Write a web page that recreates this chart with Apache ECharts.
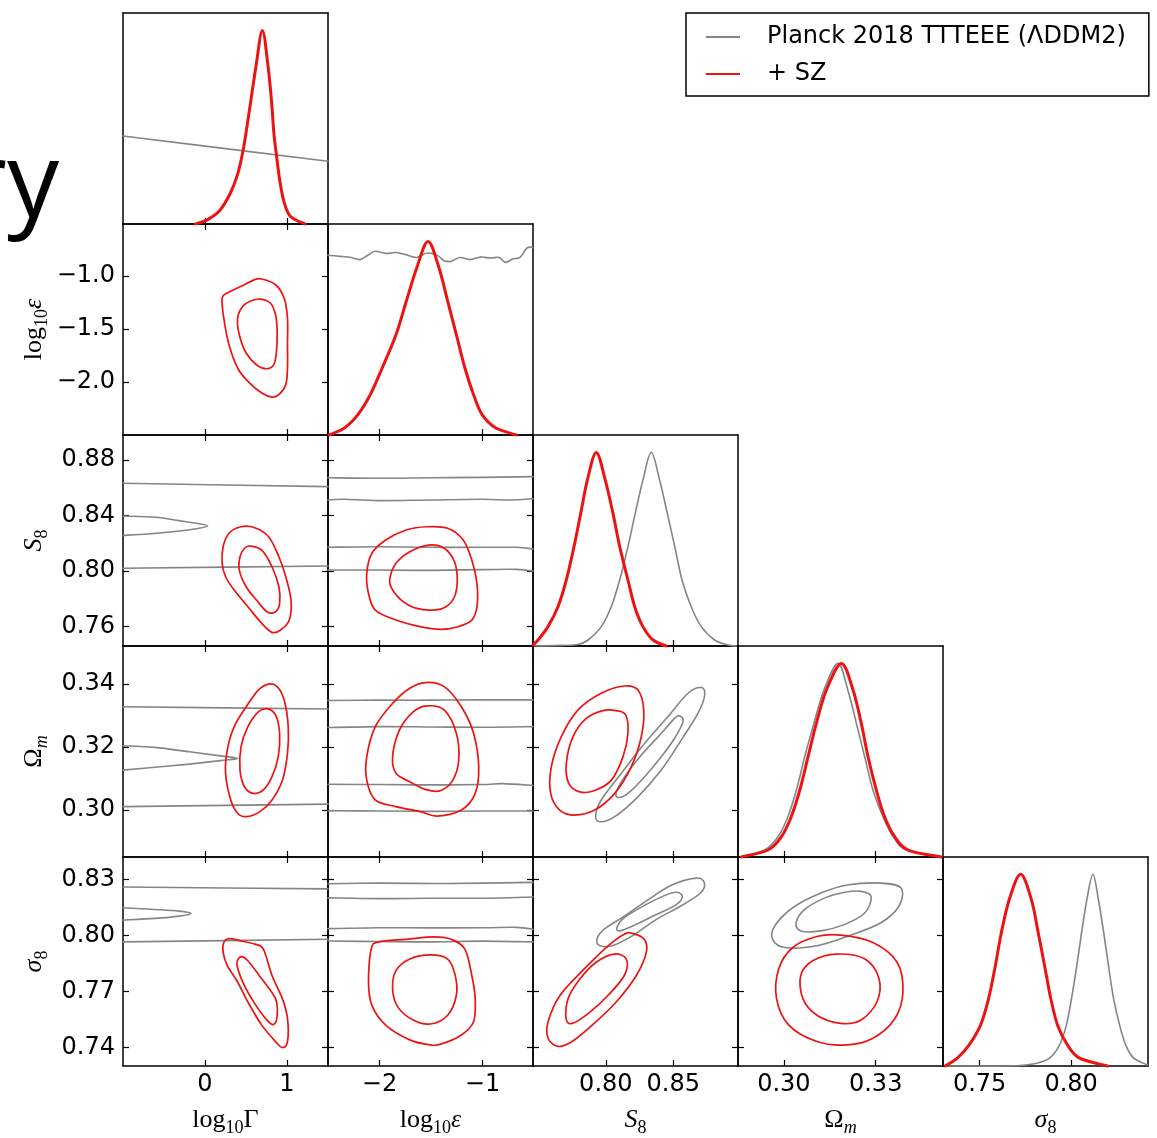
<!DOCTYPE html>
<html><head><meta charset="utf-8">
<script src="https://cdn.jsdelivr.net/npm/echarts@6/dist/echarts.min.js"></script>
<style>html,body{margin:0;padding:0;background:#fff}#c{width:1157px;height:1138px}</style>
</head><body><div id="c"></div>
<script>
// ---------- axis ranges & ticks ----------
const rangeGamma = [-1, 1.5];
const rangeEps = [-2.5, -0.51];
const rangeS8 = [0.746, 0.898];
const rangeOm = [0.285, 0.352];
const rangeSig = [0.73, 0.842];
const rangeDensity = [0, 1.09];

const ticksGamma = [0, 1];
const ticksEpsX = [-2, -1];
const ticksEpsY = [-2.0, -1.5, -1.0];
const ticksS8X = [0.80, 0.85];
const ticksS8Y = [0.76, 0.80, 0.84, 0.88];
const ticksOmX = [0.30, 0.33];
const ticksOmY = [0.30, 0.32, 0.34];
const ticksSigX = [0.75, 0.80];
const ticksSigY = [0.74, 0.77, 0.80, 0.83];

const NAME_GRAY = 'Planck 2018 TTTEEE (ΛDDM2)';
const NAME_RED = '+ SZ';

// ---------- 1D marginals (normalised density) ----------
const gamma1DGray = [[-1, 0.455], [1.5, 0.324]];
const gamma1DRed = [[-0.12,0],[0.02,0.02],[0.18,0.07],[0.31,0.16],[0.40,0.26],[0.46,0.37],[0.50,0.47],[0.56,0.64],[0.62,0.81],[0.70,1.0],[0.77,0.81],[0.81,0.64],[0.84,0.47],[0.87,0.36],[0.91,0.23],[0.96,0.12],[1.04,0.04],[1.22,0]];
const eps1DGray = [[-2.5,0.928],[-2.375,0.923],[-2.275,0.917],[-2.191,0.906],[-2.107,0.931],[-2.04,0.949],[-1.94,0.938],[-1.84,0.943],[-1.74,0.931],[-1.639,0.917],[-1.539,0.94],[-1.439,0.928],[-1.372,0.9],[-1.305,0.897],[-1.221,0.917],[-1.121,0.906],[-1.02,0.919],[-0.92,0.914],[-0.837,0.917],[-0.777,0.892],[-0.703,0.91],[-0.636,0.917],[-0.569,0.966],[-0.51,0.969]];
const eps1DRed = [[-2.49,0],[-2.34,0.036],[-2.21,0.105],[-2.09,0.208],[-1.974,0.346],[-1.84,0.518],[-1.74,0.691],[-1.639,0.863],[-1.529,1.0],[-1.422,0.863],[-1.338,0.691],[-1.254,0.518],[-1.171,0.346],[-1.087,0.208],[-1.004,0.105],[-0.87,0.036],[-0.67,0]];
const s81DGray = [[0.7473,0],[0.767,0.003],[0.7793,0.008],[0.7868,0.031],[0.7966,0.1],[0.804,0.203],[0.8103,0.341],[0.8164,0.513],[0.8218,0.685],[0.8275,0.857],[0.8337,1],[0.8399,0.857],[0.8456,0.685],[0.8511,0.513],[0.8565,0.341],[0.8633,0.203],[0.8708,0.1],[0.8807,0.031],[0.8906,0.005],[0.8967,0]];
const s81DRed = [[0.746,0.005],[0.7497,0.031],[0.7571,0.1],[0.7645,0.203],[0.7707,0.341],[0.7764,0.513],[0.7814,0.685],[0.7863,0.857],[0.7929,1],[0.7996,0.857],[0.8053,0.685],[0.8103,0.513],[0.8164,0.341],[0.8214,0.203],[0.8275,0.1],[0.835,0.031],[0.8448,0]];
const om1DGray = [[0.2861,0],[0.2937,0.036],[0.2981,0.105],[0.3013,0.208],[0.3041,0.346],[0.3068,0.518],[0.3098,0.69],[0.3131,0.863],[0.3177,1],[0.3209,0.863],[0.3237,0.69],[0.3264,0.518],[0.3291,0.346],[0.3324,0.208],[0.3357,0.105],[0.34,0.036],[0.3514,0]];
const om1DRed = [[0.2861,0],[0.2948,0.036],[0.2992,0.105],[0.3024,0.208],[0.3052,0.346],[0.3079,0.518],[0.3106,0.69],[0.3139,0.863],[0.3188,1],[0.3226,0.863],[0.3253,0.69],[0.3275,0.518],[0.3302,0.346],[0.3329,0.208],[0.3362,0.105],[0.3406,0.036],[0.3514,0]];
const sig1DGray = [[0.7312,0],[0.7662,0],[0.78,0.012],[0.7882,0.041],[0.7937,0.11],[0.7974,0.213],[0.8002,0.351],[0.8031,0.523],[0.8057,0.696],[0.8086,0.868],[0.8119,1],[0.8149,0.868],[0.8178,0.696],[0.8204,0.523],[0.8232,0.351],[0.8265,0.213],[0.8298,0.11],[0.8342,0.041],[0.8419,0.005]];
const sig1DRed = [[0.7312,0],[0.7378,0.041],[0.7443,0.11],[0.7505,0.213],[0.7549,0.351],[0.7586,0.523],[0.7619,0.696],[0.7662,0.868],[0.7724,1],[0.7783,0.868],[0.782,0.696],[0.7855,0.523],[0.7889,0.351],[0.7926,0.213],[0.798,0.11],[0.8046,0.041],[0.8199,0]];

// ---------- 2D contours ----------
const epsGammaRedOuter = [[0.692,-1.029],[0.860,-1.083],[0.965,-1.208],[1.006,-1.397],[1.006,-1.649],[1.006,-1.868],[0.985,-2.026],[0.901,-2.120],[0.817,-2.142],[0.692,-2.104],[0.523,-1.994],[0.398,-1.868],[0.293,-1.649],[0.229,-1.397],[0.209,-1.208],[0.272,-1.161],[0.439,-1.098],[0.607,-1.035]];
const epsGammaRedInner = [[0.671,-1.218],[0.796,-1.255],[0.860,-1.366],[0.880,-1.522],[0.872,-1.711],[0.839,-1.837],[0.755,-1.875],[0.628,-1.837],[0.502,-1.727],[0.418,-1.554],[0.398,-1.397],[0.461,-1.286],[0.566,-1.234]];
const s8GammaGrayTop = [[-1,0.8632],[1.5,0.8608]];
const s8GammaGrayFinger = [[-1,0.8396],[-0.610,0.8387],[-0.317,0.8363],[-0.106,0.8344],[0.032,0.8324],[-0.106,0.8305],[-0.400,0.8283],[-0.694,0.8267],[-1,0.8257]];
const s8GammaGrayBottom = [[-1,0.8020],[1.5,0.8036]];
const s8GammaRedOuter = [[0.439,0.8319],[0.607,0.8312],[0.776,0.8247],[0.901,0.8103],[0.985,0.7959],[1.049,0.7791],[1.028,0.7647],[0.922,0.7575],[0.817,0.7558],[0.692,0.7623],[0.523,0.7743],[0.356,0.7863],[0.251,0.7959],[0.209,0.8056],[0.221,0.8175],[0.293,0.8272]];
const s8GammaRedInner = [[0.545,0.8180],[0.692,0.8151],[0.817,0.8031],[0.901,0.7887],[0.910,0.7767],[0.860,0.7707],[0.755,0.7707],[0.628,0.7791],[0.502,0.7887],[0.418,0.8007],[0.427,0.8103],[0.482,0.8164]];
const s8EpsGray1 = [[-2.5,0.8672],[-2.007,0.8668],[-1.506,0.8672],[-1.004,0.8675],[-0.51,0.8680]];
const s8EpsGray2 = [[-2.5,0.8512],[-2.341,0.8517],[-2.007,0.8507],[-1.506,0.8512],[-1.004,0.8517],[-0.737,0.8512],[-0.51,0.8521]];
const s8EpsGray3 = [[-2.5,0.8171],[-2.007,0.8175],[-1.506,0.8171],[-1.004,0.8171],[-0.670,0.8171],[-0.51,0.8159]];
const s8EpsGray4 = [[-2.5,0.8007],[-2.007,0.8007],[-1.506,0.8005],[-1.004,0.8010],[-0.670,0.8012],[-0.51,0.8000]];
const s8EpsRedOuter = [[-1.539,0.8319],[-1.338,0.8308],[-1.188,0.8224],[-1.104,0.8079],[-1.054,0.7912],[-1.054,0.7743],[-1.104,0.7647],[-1.238,0.7599],[-1.405,0.7580],[-1.606,0.7599],[-1.840,0.7647],[-2.041,0.7719],[-2.107,0.7839],[-2.124,0.7984],[-2.074,0.8128],[-1.940,0.8224],[-1.740,0.8296]];
const s8EpsRedInner = [[-1.522,0.8187],[-1.372,0.8164],[-1.272,0.8067],[-1.245,0.7935],[-1.272,0.7815],[-1.355,0.7743],[-1.472,0.7719],[-1.639,0.7731],[-1.789,0.7791],[-1.890,0.7887],[-1.896,0.7959],[-1.840,0.8056],[-1.706,0.8139]];
const omGammaGrayTop = [[-1,0.3327],[1.5,0.3320]];
const omGammaGrayFinger = [[-1,0.3203],[-0.610,0.3198],[-0.190,0.3184],[0.188,0.3171],[0.398,0.3163],[0.188,0.3156],[-0.190,0.3145],[-0.610,0.3135],[-1,0.3126]];
const omGammaGrayBottom = [[-1,0.3010],[1.5,0.3018]];
const omGammaRedOuter = [[0.776,0.3399],[0.880,0.3391],[0.965,0.3349],[1.015,0.3264],[1.006,0.3179],[0.944,0.3094],[0.817,0.3031],[0.671,0.2994],[0.502,0.2978],[0.398,0.2989],[0.314,0.3031],[0.251,0.3116],[0.272,0.3190],[0.356,0.3264],[0.502,0.3327],[0.650,0.3380]];
const omGammaRedInner = [[0.755,0.3321],[0.860,0.3301],[0.910,0.3243],[0.893,0.3168],[0.817,0.3105],[0.712,0.3063],[0.587,0.3052],[0.482,0.3073],[0.427,0.3126],[0.439,0.3200],[0.523,0.3264],[0.650,0.3311]];
const omEpsGray1 = [[-2.5,0.3347],[-2.007,0.3348],[-1.506,0.3348],[-1.004,0.3349],[-0.51,0.3349]];
const omEpsGray2 = [[-2.5,0.3261],[-2.007,0.3264],[-1.506,0.3263],[-1.004,0.3262],[-0.51,0.3264]];
const omEpsGray3 = [[-2.5,0.3081],[-2.007,0.3080],[-1.506,0.3079],[-1.004,0.3080],[-0.803,0.3083],[-0.51,0.3077]];
const omEpsGray4 = [[-2.5,0.2997],[-2.007,0.2996],[-1.506,0.2995],[-1.004,0.2996],[-0.51,0.2996]];
const omEpsRedOuter = [[-1.555,0.3404],[-1.372,0.3391],[-1.205,0.3327],[-1.087,0.3243],[-1.037,0.3137],[-1.071,0.3052],[-1.205,0.2999],[-1.439,0.2980],[-1.606,0.2994],[-1.840,0.3010],[-2.041,0.3031],[-2.124,0.3094],[-2.124,0.3168],[-2.041,0.3264],[-1.873,0.3338],[-1.706,0.3386]];
const omEpsRedInner = [[-1.539,0.3330],[-1.372,0.3317],[-1.254,0.3243],[-1.231,0.3158],[-1.288,0.3094],[-1.405,0.3061],[-1.539,0.3063],[-1.706,0.3089],[-1.840,0.3116],[-1.873,0.3168],[-1.807,0.3253],[-1.673,0.3311]];
const omS8GrayOuter = [[0.8708,0.3388],[0.8733,0.3364],[0.8683,0.3306],[0.8559,0.3221],[0.8411,0.3126],[0.8238,0.3041],[0.8066,0.2978],[0.7954,0.2962],[0.7925,0.2983],[0.7966,0.3031],[0.8115,0.3116],[0.8288,0.3211],[0.8461,0.3296],[0.8609,0.3370]];
const omS8GrayInner = [[0.8548,0.3298],[0.8572,0.3280],[0.8510,0.3227],[0.8411,0.3168],[0.8288,0.3105],[0.8164,0.3052],[0.8090,0.3039],[0.8078,0.3057],[0.8140,0.3105],[0.8263,0.3174],[0.8399,0.3237],[0.8510,0.3290]];
const omS8RedOuter = [[0.8140,0.3393],[0.8238,0.3380],[0.8281,0.3317],[0.8263,0.3232],[0.8189,0.3137],[0.8066,0.3052],[0.7917,0.2999],[0.7769,0.2983],[0.7658,0.2999],[0.7591,0.3052],[0.7596,0.3137],[0.7670,0.3232],[0.7794,0.3317],[0.7966,0.3370]];
const omS8RedInner = [[0.8078,0.3315],[0.8147,0.3301],[0.8164,0.3243],[0.8127,0.3168],[0.8041,0.3094],[0.7917,0.3061],[0.7806,0.3057],[0.7725,0.3084],[0.7707,0.3147],[0.7757,0.3232],[0.7855,0.3290],[0.7979,0.3315]];
const sigGammaGrayTop = [[-1,0.8259],[1.5,0.8249]];
const sigGammaGrayFinger = [[-1,0.8148],[-0.610,0.8139],[-0.316,0.8130],[-0.170,0.8117],[-0.316,0.8103],[-0.610,0.8091],[-1,0.8082]];
const sigGammaGrayBottom = [[-1,0.7965],[1.5,0.7979]];
const sigGammaRedOuter = [[0.293,0.7983],[0.439,0.7970],[0.607,0.7953],[0.712,0.7926],[0.817,0.7785],[0.944,0.7661],[1.006,0.7555],[1.006,0.7431],[0.944,0.7399],[0.860,0.7431],[0.692,0.7519],[0.523,0.7643],[0.398,0.7750],[0.272,0.7838],[0.221,0.7909],[0.229,0.7962]];
const sigGammaRedInner = [[0.439,0.7886],[0.523,0.7864],[0.692,0.7767],[0.860,0.7661],[0.880,0.7572],[0.839,0.7523],[0.755,0.7546],[0.607,0.7634],[0.461,0.7750],[0.389,0.7847]];
const sigEpsGray1 = [[-2.5,0.8277],[-2.007,0.8280],[-1.506,0.8278],[-1.004,0.8280],[-0.51,0.8284]];
const sigEpsGray2 = [[-2.5,0.8201],[-2.007,0.8197],[-1.506,0.8199],[-1.004,0.8199],[-0.51,0.8206]];
const sigEpsGray3 = [[-2.5,0.8036],[-2.007,0.8041],[-1.506,0.8040],[-1.004,0.8041],[-0.670,0.8043],[-0.51,0.8033]];
const sigEpsGray4 = [[-2.5,0.7970],[-2.007,0.7967],[-1.506,0.7965],[-1.004,0.7969],[-0.51,0.7965]];
const sigEpsRedOuter = [[-1.472,0.7992],[-1.305,0.7979],[-1.171,0.7926],[-1.104,0.7785],[-1.071,0.7661],[-1.087,0.7537],[-1.205,0.7466],[-1.405,0.7417],[-1.506,0.7413],[-1.706,0.7440],[-1.940,0.7519],[-2.074,0.7625],[-2.107,0.7750],[-2.081,0.7926],[-2.007,0.7965],[-1.740,0.7979]];
const sigEpsRedInner = [[-1.506,0.7895],[-1.338,0.7873],[-1.265,0.7785],[-1.254,0.7679],[-1.338,0.7572],[-1.506,0.7525],[-1.673,0.7546],[-1.823,0.7617],[-1.873,0.7714],[-1.840,0.7811],[-1.706,0.7873]];
const sigS8GrayOuter = [[0.8672,0.8307],[0.8731,0.8280],[0.8702,0.8227],[0.8553,0.8156],[0.8375,0.8086],[0.8196,0.7997],[0.8047,0.7944],[0.7958,0.7944],[0.7934,0.7979],[0.7988,0.8033],[0.8137,0.8103],[0.8315,0.8192],[0.8493,0.8271]];
const sigS8GrayInner = [[0.8523,0.8231],[0.8568,0.8209],[0.8523,0.8165],[0.8375,0.8112],[0.8226,0.8059],[0.8107,0.8024],[0.8083,0.8042],[0.8137,0.8095],[0.8285,0.8160],[0.8434,0.8213]];
const sigS8RedOuter = [[0.8196,0.8011],[0.8285,0.7979],[0.8300,0.7909],[0.8226,0.7785],[0.8077,0.7643],[0.7899,0.7519],[0.7750,0.7431],[0.7646,0.7405],[0.7572,0.7449],[0.7572,0.7537],[0.7661,0.7679],[0.7840,0.7820],[0.8017,0.7944],[0.8137,0.8006]];
const sigS8RedInner = [[0.8062,0.7900],[0.8152,0.7873],[0.8137,0.7785],[0.8017,0.7679],[0.7869,0.7581],[0.7750,0.7528],[0.7705,0.7555],[0.7720,0.7661],[0.7809,0.7767],[0.7928,0.7856]];
const sigOmGrayOuter = [[0.3317,0.8280],[0.3383,0.8254],[0.3376,0.8156],[0.3317,0.8068],[0.3212,0.7997],[0.3108,0.7944],[0.3003,0.7935],[0.2963,0.7979],[0.2970,0.8050],[0.3029,0.8148],[0.3121,0.8227],[0.3212,0.8271]];
const sigOmGrayInner = [[0.3252,0.8236],[0.3285,0.8209],[0.3265,0.8121],[0.3199,0.8059],[0.3121,0.8024],[0.3055,0.8024],[0.3040,0.8068],[0.3068,0.8139],[0.3134,0.8201],[0.3199,0.8231]];
const sigOmRedOuter = [[0.3186,0.8001],[0.3291,0.7962],[0.3370,0.7856],[0.3389,0.7697],[0.3363,0.7555],[0.3291,0.7449],[0.3206,0.7413],[0.3108,0.7431],[0.3016,0.7519],[0.2976,0.7661],[0.2983,0.7820],[0.3029,0.7935],[0.3108,0.7994]];
const sigOmRedInner = [[0.3173,0.7900],[0.3265,0.7873],[0.3311,0.7767],[0.3304,0.7643],[0.3252,0.7546],[0.3186,0.7528],[0.3108,0.7572],[0.3062,0.7661],[0.3055,0.7785],[0.3094,0.7864]];

// ---------- build chart ----------
const RED = '#ec1313', GRAY = '#858585';
const RICH = {
  m: {fontFamily: 'Liberation Serif', fontSize: 26, lineHeight: 34, color: '#000'},
  i: {fontFamily: 'Liberation Serif', fontSize: 26, lineHeight: 34, fontStyle: 'italic', color: '#000'},
  s: {fontFamily: 'Liberation Serif', fontSize: 18, lineHeight: 18, verticalAlign: 'bottom', color: '#000'},
  si: {fontFamily: 'Liberation Serif', fontSize: 18, lineHeight: 18, verticalAlign: 'bottom', fontStyle: 'italic', color: '#000'}
};
const P = [
  {range: rangeGamma, xt: ticksGamma, yt: [], dx: 0, dy: 0, name: '{m|log}{s|10}{m|Γ}'},
  {range: rangeEps, xt: ticksEpsX, yt: ticksEpsY, dx: 0, dy: 1, name: '{m|log}{s|10}{i|ε}'},
  {range: rangeS8, xt: ticksS8X, yt: ticksS8Y, dx: 2, dy: 2, name: '{i|S}{s|8}'},
  {range: rangeOm, xt: ticksOmX, yt: ticksOmY, dx: 2, dy: 2, name: '{m|Ω}{si|m}'},
  {range: rangeSig, xt: ticksSigX, yt: ticksSigY, dx: 2, dy: 2, name: '{i|σ}{s|8}'}
];
const LEFT0 = 123, TOP0 = 13, PW = 205, PH = 211;
const grid = [], xAxis = [], yAxis = [], series = [];
const gIdx = {};
const axisLine = {show: true, onZero: false, lineStyle: {color: '#000', width: 1.5}};
const tickLine = {color: '#000', width: 1.2};
const labelStyle = {color: '#000', fontSize: 24, fontFamily: 'DejaVu Sans'};
const fmt = d => (v => Number(v).toFixed(d).replace('-', '\u2212'));

for (let r = 0; r < 5; r++) for (let c = 0; c <= r; c++) {
  const g = grid.length; gIdx[r + '_' + c] = g;
  grid.push({left: LEFT0 + c * PW, top: TOP0 + r * PH, width: PW, height: PH});
  const px = P[c], py = P[r], diag = r === c, bottom = r === 4;
  xAxis.push({gridIndex: g, type: 'value', position: 'bottom', min: px.range[0], max: px.range[1], axisLine,
    axisTick: {show: true, inside: true, length: 6, customValues: px.xt, lineStyle: tickLine},
    axisLabel: Object.assign({show: bottom, customValues: px.xt, formatter: fmt(px.dx), margin: 7}, labelStyle),
    splitLine: {show: false},
    name: bottom ? px.name : '', nameLocation: 'middle', nameGap: 37, nameTextStyle: {rich: RICH}});
  xAxis.push({gridIndex: g, type: 'value', position: 'top', min: px.range[0], max: px.range[1], axisLine,
    axisTick: {show: !diag, inside: true, length: 6, customValues: px.xt, lineStyle: tickLine},
    axisLabel: {show: false}, splitLine: {show: false}});
  if (diag) {
    ['left', 'right'].forEach(pos => yAxis.push({gridIndex: g, type: 'value', position: pos,
      min: rangeDensity[0], max: rangeDensity[1], axisLine, axisTick: {show: false}, axisLabel: {show: false}, splitLine: {show: false}}));
  } else {
    yAxis.push({gridIndex: g, type: 'value', position: 'left', min: py.range[0], max: py.range[1], axisLine,
      axisTick: {show: true, inside: true, length: 6, customValues: py.yt, lineStyle: tickLine},
      axisLabel: Object.assign({show: c === 0, customValues: py.yt, formatter: fmt(py.dy), margin: 8}, labelStyle),
      splitLine: {show: false},
      name: c === 0 ? py.name : '', nameLocation: 'middle', nameGap: 72, nameRotate: 90, nameTextStyle: {rich: RICH}});
    yAxis.push({gridIndex: g, type: 'value', position: 'right', min: py.range[0], max: py.range[1], axisLine,
      axisTick: {show: true, inside: true, length: 6, customValues: py.yt, lineStyle: tickLine},
      axisLabel: {show: false}, splitLine: {show: false}});
  }
}

// Catmull-Rom spline through pixel points (pixels come from the axes via api.coord)
function splinePath(pix, closed) {
  const n = pix.length;
  const get = i => closed ? pix[((i % n) + n) % n] : pix[Math.max(0, Math.min(n - 1, i))];
  let d = 'M' + pix[0][0].toFixed(2) + ' ' + pix[0][1].toFixed(2);
  const segs = closed ? n : n - 1;
  for (let i = 0; i < segs; i++) {
    const p0 = get(i - 1), p1 = get(i), p2 = get(i + 1), p3 = get(i + 2);
    const c1 = [p1[0] + (p2[0] - p0[0]) / 6, p1[1] + (p2[1] - p0[1]) / 6];
    const c2 = [p2[0] - (p3[0] - p1[0]) / 6, p2[1] - (p3[1] - p1[1]) / 6];
    d += ' C' + [c1[0], c1[1], c2[0], c2[1], p2[0], p2[1]].map(v => v.toFixed(2)).join(' ');
  }
  if (closed) d += ' Z';
  return d;
}
function addCurve(r, c, pts, color, width, closed) {
  const g = gIdx[r + '_' + c];
  series.push({type: 'custom', name: color === RED ? NAME_RED : NAME_GRAY,
    coordinateSystem: 'cartesian2d', xAxisIndex: 2 * g, yAxisIndex: 2 * g,
    data: pts, itemStyle: {color}, z: color === RED ? 4 : 3, silent: true, animation: false,
    renderItem: function (params, api) {
      if (params.dataIndex !== 0) return null;
      const pix = pts.map(p => api.coord(p));
      return {type: 'path', silent: true,
        shape: {pathData: splinePath(pix, closed)},
        style: {fill: 'none', stroke: color, lineWidth: width, lineJoin: 'round', lineCap: 'round'}};
    }});
}
const gray2D = [
  [2,0,s8GammaGrayTop,false],[2,0,s8GammaGrayFinger,false],[2,0,s8GammaGrayBottom,false],
  [2,1,s8EpsGray1,false],[2,1,s8EpsGray2,false],[2,1,s8EpsGray3,false],[2,1,s8EpsGray4,false],
  [3,0,omGammaGrayTop,false],[3,0,omGammaGrayFinger,false],[3,0,omGammaGrayBottom,false],
  [3,1,omEpsGray1,false],[3,1,omEpsGray2,false],[3,1,omEpsGray3,false],[3,1,omEpsGray4,false],
  [3,2,omS8GrayOuter,true],[3,2,omS8GrayInner,true],
  [4,0,sigGammaGrayTop,false],[4,0,sigGammaGrayFinger,false],[4,0,sigGammaGrayBottom,false],
  [4,1,sigEpsGray1,false],[4,1,sigEpsGray2,false],[4,1,sigEpsGray3,false],[4,1,sigEpsGray4,false],
  [4,2,sigS8GrayOuter,true],[4,2,sigS8GrayInner,true],
  [4,3,sigOmGrayOuter,true],[4,3,sigOmGrayInner,true]
];
const red2D = [
  [1,0,epsGammaRedOuter],[1,0,epsGammaRedInner],
  [2,0,s8GammaRedOuter],[2,0,s8GammaRedInner],
  [2,1,s8EpsRedOuter],[2,1,s8EpsRedInner],
  [3,0,omGammaRedOuter],[3,0,omGammaRedInner],
  [3,1,omEpsRedOuter],[3,1,omEpsRedInner],
  [3,2,omS8RedOuter],[3,2,omS8RedInner],
  [4,0,sigGammaRedOuter],[4,0,sigGammaRedInner],
  [4,1,sigEpsRedOuter],[4,1,sigEpsRedInner],
  [4,2,sigS8RedOuter],[4,2,sigS8RedInner],
  [4,3,sigOmRedOuter],[4,3,sigOmRedInner]
];
gray2D.forEach(d => addCurve(d[0], d[1], d[2], GRAY, 1.6, d[3]));
red2D.forEach(d => addCurve(d[0], d[1], d[2], RED, 1.7, true));
const gray1D = [gamma1DGray, eps1DGray, s81DGray, om1DGray, sig1DGray];
const red1D = [gamma1DRed, eps1DRed, s81DRed, om1DRed, sig1DRed];
gray1D.forEach((d, k) => addCurve(k, k, d, GRAY, 1.6, false));
red1D.forEach((d, k) => addCurve(k, k, d, RED, 3, false));

const chart = echarts.init(document.getElementById('c'), null, {renderer: 'canvas'});
chart.setOption({
  animation: false,
  backgroundColor: '#fff',
  grid, xAxis, yAxis, series,
  legend: {
    data: [NAME_GRAY, NAME_RED], orient: 'vertical', left: 686, top: 13,
    padding: [11, 23, 9, 20], itemGap: 11, itemWidth: 34, itemHeight: 2, icon: 'rect',
    backgroundColor: '#fff', borderColor: '#000', borderWidth: 1.5, borderRadius: 0,
    selectedMode: false,
    textStyle: {fontSize: 24, fontFamily: 'DejaVu Sans', color: '#000', lineHeight: 26, padding: [0, 0, 0, 22]}
  },
  graphic: [{type: 'text', silent: true,
    style: {text: 'ry', x: 59, y: 187, align: 'right', verticalAlign: 'middle', textAlign: 'right', textVerticalAlign: 'middle',
      font: '104px "Open Sans", "DejaVu Sans", sans-serif', fill: '#000'}}]
});
</script></body></html>
